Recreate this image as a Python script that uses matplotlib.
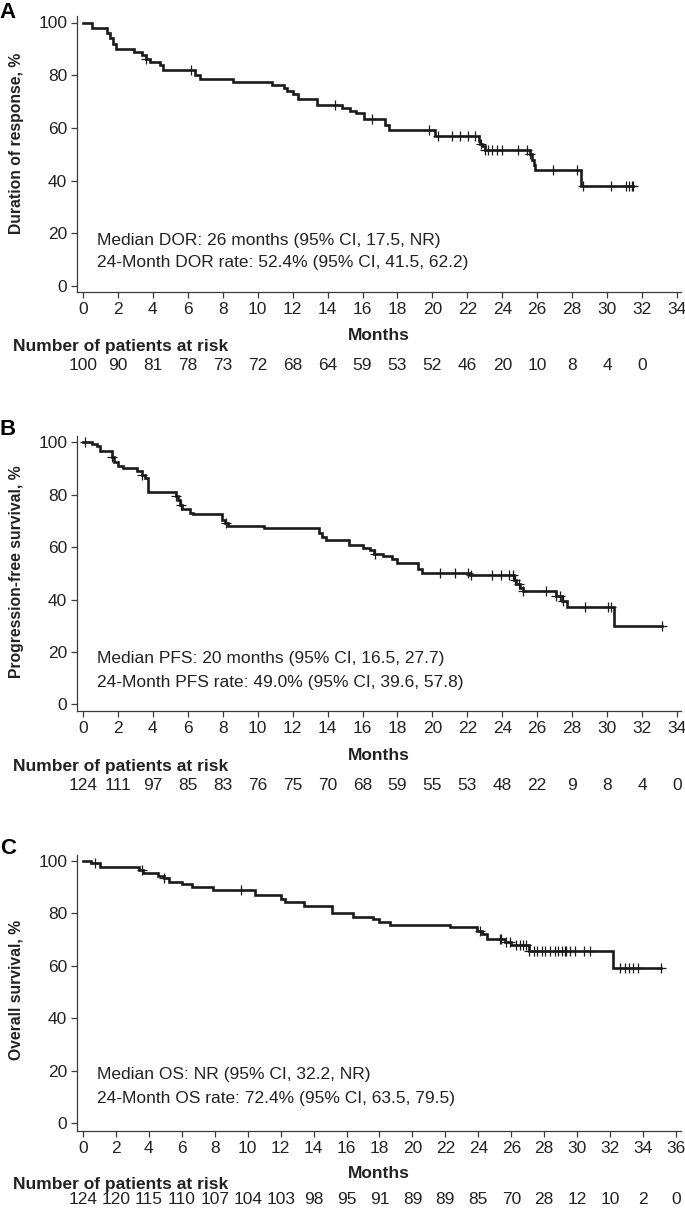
import numpy as np
import matplotlib as mpl
import matplotlib.pyplot as plt
from matplotlib.transforms import blended_transform_factory

mpl.rcParams['font.family'] = ['Liberation Sans', 'DejaVu Sans']

# Figure size in pixels (dpi 100)
W, H = 685, 1210

# Panel A: duration of response
dor_time = [0, 0.5, 1.4, 1.55, 1.7, 1.9, 2.9, 3.4, 3.6, 3.85, 4.4, 4.6, 6.4,
            6.7, 8.6, 10.8, 11.5, 11.7, 12.0, 12.3, 13.4, 14.8, 15.3, 15.6,
            16.1, 17.3, 17.5, 20.15, 22.65, 22.75, 22.85, 23.0, 25.6, 25.7,
            25.8, 25.9, 28.5, 31.5]
dor_surv = [100, 98, 96, 94, 92, 90, 88.8, 87.5, 86, 85, 84, 81.8, 80,
            78.4, 77.4, 76.2, 75, 74, 73, 71, 68.8, 67.7, 66.6, 65.5,
            63.5, 61, 59.1, 56.8, 55, 54, 53, 51.8, 50, 48, 46, 44.2,
            38.1, 38.1]
dor_cens = [3.6, 6.2, 14.4, 16.55, 19.8, 20.3, 21.1, 21.6, 22.05, 22.45,
            22.8, 23.0, 23.2, 23.4, 23.7, 24.0, 24.9, 25.4, 25.6, 26.9,
            28.25, 28.6, 30.2, 31.1, 31.25, 31.4, 31.5]
dor_ticks = list(range(0, 35, 2))
dor_risk = [100, 90, 81, 78, 73, 72, 68, 64, 59, 53, 52, 46, 20, 10, 8, 4, 0]

# Panel B: progression-free survival
pfs_time = [0, 0.5, 0.8, 1.0, 1.65, 1.8, 2.0, 2.3, 3.1, 3.35, 3.55, 3.7,
            5.3, 5.45, 5.55, 5.65, 6.1, 6.3, 7.95, 8.1, 8.3, 10.35, 13.5,
            13.7, 13.9, 15.2, 16.05, 16.45, 16.65, 17.2, 17.7, 18.0, 19.2,
            19.4, 22.15, 24.65, 24.8, 25.0, 25.2, 27.1, 27.4, 27.7, 30.4,
            33.15]
pfs_surv = [100, 99.3, 98.5, 96.8, 94.5, 92.5, 91, 90.1, 89, 87.5, 86.2,
            81.1, 79.5, 78, 76, 74.4, 73.2, 72.5, 70.5, 69.2, 68, 67.4,
            65.5, 63.8, 62.7, 60.8, 59.8, 58.8, 57.4, 56.5, 55.3, 53.8,
            51.5, 50, 49.2, 47.5, 46, 44.5, 43.4, 41.5, 39.5, 37.3, 29.9,
            29.9]
pfs_cens = [0.1, 1.65, 3.4, 5.3, 5.6, 8.2, 16.7, 20.45, 21.3, 22.05, 22.2,
            23.4, 23.9, 24.4, 24.6, 24.75, 24.95, 25.2, 26.5, 27.1, 27.3,
            27.5, 28.75, 30.05, 30.2, 33.15]
pfs_ticks = list(range(0, 35, 2))
pfs_risk = [124, 111, 97, 85, 83, 76, 75, 70, 68, 59, 55, 53, 48, 22, 9, 8,
            4, 0]

# Panel C: overall survival
os_time = [0, 0.5, 1.05, 3.4, 3.65, 4.55, 4.9, 5.2, 6.0, 6.6, 7.9, 10.45,
           12.05, 12.25, 13.4, 15.1, 16.4, 17.6, 18.0, 18.65, 22.3, 23.9,
           24.2, 24.5, 25.6, 26.0, 27.05, 32.15, 35.1]
os_surv = [100, 99.2, 97.5, 96.5, 95.2, 94, 93.3, 92, 91, 90, 88.9, 86.9,
           85.5, 84.3, 82.7, 80.2, 78.7, 77.8, 76.8, 75.5, 74.6, 73.3,
           72.1, 70.0, 69.1, 67.9, 65.7, 59.0, 59.0]
os_cens = [0.7, 3.6, 4.9, 9.6, 24.1, 25.3, 25.4, 25.7, 25.9, 26.3, 26.5,
           26.7, 26.9, 27.1, 27.35, 27.55, 27.85, 28.05, 28.35, 28.65,
           28.85, 29.05, 29.25, 29.35, 29.55, 29.85, 30.4, 30.8, 32.6,
           32.9, 33.15, 33.4, 33.7, 35.1]
os_ticks = list(range(0, 37, 2))
os_risk = [124, 120, 115, 110, 107, 104, 103, 98, 95, 91, 89, 89, 85, 70,
           28, 12, 10, 2, 0]

LINE = '#1a1a1a'
AXC = '#3a3a3a'
TXT = '#222222'


def km_panel(fig, letter, t, s, cens, ticks, risk, ylabel, notes, geo):
    """Draw one Kaplan-Meier panel with its risk table.

    geo: pixel geometry (spine left/right/top/bottom, pixel of x=0 and
    last tick, pixel of y=100 and y=0, ylabel centre, note rows).
    """
    left, right, top, bottom = geo['box']
    x0, xl = geo['xpx']
    y100, y0 = geo['ypx']

    ax = fig.add_axes([left / W, 1 - bottom / H, (right - left) / W,
                       (bottom - top) / H])

    # Data limits from pixel geometry
    ppx = (xl - x0) / ticks[-1]
    ppy = (y0 - y100) / 100.0
    ax.set_xlim((left - x0) / ppx, (right - x0) / ppx)
    ax.set_ylim(-(bottom - y0) / ppy, 100 + (y100 - top) / ppy)

    # Curve & censor marks
    ax.step(t, s, where='post', color=LINE, lw=1.9, solid_joinstyle='miter')
    t_arr = np.asarray(t)
    s_arr = np.asarray(s)
    idx = np.searchsorted(t_arr, cens, side='right') - 1
    ax.plot(cens, s_arr[idx], ls='none', marker='+', ms=6.5, mew=0.9,
            color=LINE)

    # Spines & ticks
    for side in ['top', 'right']:
        ax.spines[side].set_visible(False)
    for side in ['left', 'bottom']:
        ax.spines[side].set_color(AXC)
        ax.spines[side].set_linewidth(0.9)
    ax.set_xticks(ticks)
    ax.set_yticks(range(0, 101, 20))
    ax.tick_params(axis='both', direction='out', length=4.5, width=0.9,
                   color=AXC, labelcolor=TXT, labelsize=12.5)
    ax.tick_params(axis='x', pad=3)
    ax.tick_params(axis='y', pad=2.5)

    ax.set_ylabel(ylabel, fontsize=11.3, fontweight='bold', color=TXT)
    ax.yaxis.set_label_coords((geo['ylab_x'] - left) / (right - left),
                              (bottom - geo['ylab_y']) / (bottom - top))

    # Median / rate notes
    for (ny, note) in zip(geo['notes_y'], notes):
        fig.text(97 / W, 1 - ny / H, note, fontsize=12.5, color=TXT,
                 ha='left', va='center')

    # Panel letter
    fig.text(8 / W, 1 - geo['letter_y'] / H, letter, fontsize=16,
             fontweight='bold', color='black', ha='center', va='center')

    # X label & risk table
    months_y, head_y, nums_y = geo['table_y']
    fig.text(((left + right) / 2) / W, 1 - months_y / H, 'Months',
             fontsize=12.5, fontweight='bold', color=TXT, ha='center',
             va='center')
    fig.text(13 / W, 1 - head_y / H, 'Number of patients at risk',
             fontsize=12.5, fontweight='bold', color=TXT, ha='left',
             va='center')
    trans = blended_transform_factory(ax.transData, fig.transFigure)
    for xt, n in zip(ticks, risk):
        ax.text(xt, 1 - nums_y / H, str(n), transform=trans,
                fontsize=12.5, color=TXT, ha='center', va='center',
                clip_on=False)
    return ax


fig = plt.figure(figsize=(W / 100, H / 100), dpi=100)

km_panel(fig, 'A', dor_time, dor_surv, dor_cens, dor_ticks, dor_risk,
         'Duration of response, %',
         ['Median DOR: 26 months (95% CI, 17.5, NR)',
          '24-Month DOR rate: 52.4% (95% CI, 41.5, 62.2)'],
         {'box': (77, 681, 16, 292), 'xpx': (83, 677),
          'ypx': (22.5, 286), 'ylab_x': 24, 'ylab_y': 143,
          'notes_y': (240, 263), 'letter_y': 13,
          'table_y': (335, 346, 366)})

km_panel(fig, 'B', pfs_time, pfs_surv, pfs_cens, pfs_ticks, pfs_risk,
         'Progression-free survival, %',
         ['Median PFS: 20 months (95% CI, 16.5, 27.7)',
          '24-Month PFS rate: 49.0% (95% CI, 39.6, 57.8)'],
         {'box': (77, 681, 436, 711), 'xpx': (83, 677),
          'ypx': (442.3, 704.3), 'ylab_x': 24, 'ylab_y': 572,
          'notes_y': (658, 682), 'letter_y': 430,
          'table_y': (755, 766, 785)})

km_panel(fig, 'C', os_time, os_surv, os_cens, os_ticks, os_risk,
         'Overall survival, %',
         ['Median OS: NR (95% CI, 32.2, NR)',
          '24-Month OS rate: 72.4% (95% CI, 63.5, 79.5)'],
         {'box': (77, 681, 855, 1131), 'xpx': (83, 676),
          'ypx': (860.7, 1123.2), 'ylab_x': 24, 'ylab_y': 990,
          'notes_y': (1075, 1098), 'letter_y': 848,
          'table_y': (1174, 1185, 1200)})

fig.savefig('out.png', dpi=100)
